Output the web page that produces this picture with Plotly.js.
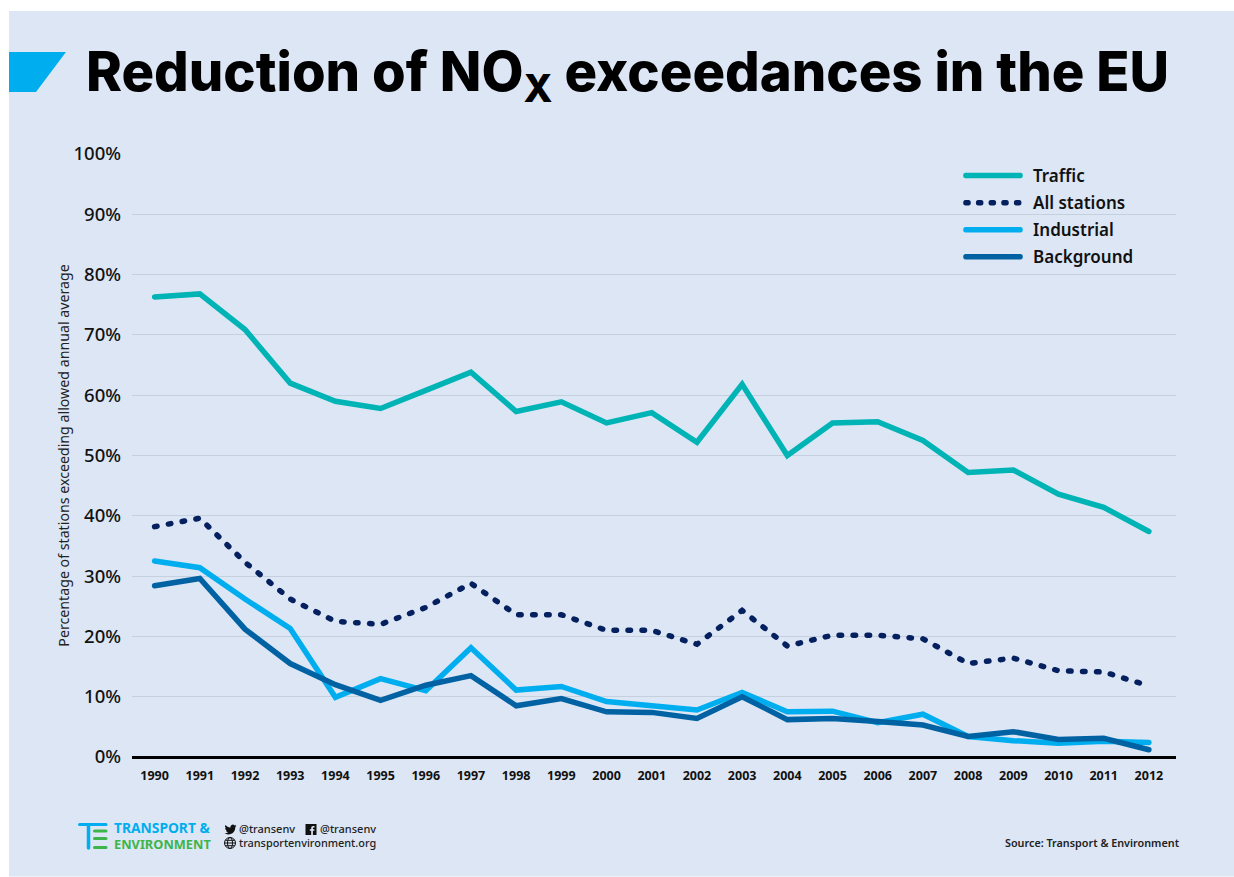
<!DOCTYPE html>
<html>
<head>
<meta charset="utf-8">
<script src="https://cdn.plot.ly/plotly-3.0.1.min.js"></script>
<style>
html,body{margin:0;padding:0;background:#fff;overflow:hidden}
#wrap{position:relative;width:1234px;height:877px}
#chart{position:absolute;left:0;top:0;width:1234px;height:877px}
#icons{position:absolute;left:0;top:0;pointer-events:none}
.scatterlayer .js-line{stroke-linecap:round}
.legend .legendlines path{stroke-linecap:round;transform:translateX(4.33px) scaleX(.8333)}
.legend .groups:nth-child(2) .legendlines path{stroke-dasharray:3.6px 11.6px !important}
</style>
</head>
<body>
<div id="wrap">
<div id="chart"></div>
<svg id="icons" width="1234" height="877" viewBox="0 0 1234 877">
  <g stroke-linecap="round" fill="none">
    <path d="M79.500 824.500H106" stroke="#00aeef" stroke-width="3"/>
    <path d="M88.500 826V848" stroke="#00aeef" stroke-width="3.500"/>
    <path d="M94.500 831H106M94.500 838.500H106M94.500 847.500H106" stroke="#3db54a" stroke-width="3"/>
  </g>
  <path transform="translate(224.500 823.500) scale(0.5)" fill="#111" d="M23.950 4.570a10 10 0 0 1-2.830.78 4.930 4.930 0 0 0 2.160-2.720 9.860 9.860 0 0 1-3.120 1.190 4.920 4.920 0 0 0-8.390 4.480A13.980 13.980 0 0 1 1.640 3.160a4.920 4.920 0 0 0 1.520 6.570 4.900 4.900 0 0 1-2.230-.62v.06a4.920 4.920 0 0 0 3.950 4.830 5 5 0 0 1-2.210.08 4.940 4.940 0 0 0 4.600 3.420A9.870 9.870 0 0 1 0 19.540a14 14 0 0 0 7.560 2.210c9.050 0 14-7.500 14-13.980 0-.21 0-.42-.02-.63a9.940 9.940 0 0 0 2.410-2.570z"/>
  <g transform="translate(305.500 824)">
    <rect width="11" height="11" fill="#111"/>
    <path d="M7.400 11V6.800H8.800L9 5.200H7.400V4.200C7.400 3.700 7.600 3.400 8.200 3.400H9V2C8.800 2 8.300 1.900 7.700 1.900 6.500 1.900 5.700 2.700 5.700 4V5.200H4.300V6.800H5.700V11Z" fill="#dce6f5"/>
  </g>
  <g transform="translate(230 843)" fill="none" stroke="#111" stroke-width="1">
    <circle r="5.500"/><ellipse rx="2.500" ry="5.500"/>
    <path d="M-5.500 0H5.500M-4.700 -2.700H4.700M-4.700 2.700H4.700"/>
  </g>
</svg>
</div>
<script>
const years = ['1990','1991','1992','1993','1994','1995','1996','1997','1998','1999','2000','2001','2002','2003','2004','2005','2006','2007','2008','2009','2010','2011','2012'];
const traffic = [76.3,76.8,70.9,62,59,57.8,60.8,63.8,57.3,58.9,55.4,57.1,52.2,61.8,50,55.4,55.6,52.5,47.2,47.6,43.6,41.4,37.4];
const allStations = [38.2,39.6,32.3,26.2,22.5,22,24.8,28.8,23.6,23.6,21,21,18.7,24.3,18.4,20.2,20.2,19.6,15.5,16.4,14.3,14.1,11.8];
const industrial = [32.5,31.4,26.2,21.3,9.9,13,11,18.1,11.1,11.7,9.2,8.6,7.8,10.7,7.5,7.6,5.7,7.1,3.4,2.7,2.3,2.6,2.4];
const background = [28.4,29.6,21.2,15.5,12,9.4,11.9,13.5,8.5,9.7,7.5,7.4,6.4,10,6.2,6.4,5.9,5.3,3.4,4.2,2.9,3.1,1.2];
const yTicks = [0,10,20,30,40,50,60,70,80,90,100];

const W = 1234, H = 877;
const L = 132, R = 1176, T = 154, B = 757.500;
const px = x => (x - L) / (R - L);
const py = y => (B - y) / (B - T);
const F = 'Noto Sans, sans-serif';

function trace(name, y, color, dash) {
  return {x: years, y, name, legendgroup: name, type: 'scatter', mode: 'lines',
    line: {color, width: 5.500, dash: dash || 'solid', shape: 'linear'}, hoverinfo: 'x+y+name'};
}
const data = [
  trace('Traffic', traffic, '#00b3b5'),
  trace('All stations', allStations, '#04205f', '2.500px,11.500px'),
  trace('Industrial', industrial, '#00aeef'),
  trace('Background', background, '#0062a3')
];
function note(text, x, y, size, color, anchor, weight) {
  return {text, xref: 'paper', yref: 'paper', x: px(x), y: py(y), xanchor: anchor || 'left', yanchor: 'middle',
    showarrow: false, font: {family: F, size, color, weight: weight || 400}};
}
const layout = {
  width: W, height: H, autosize: false,
  margin: {l: L, r: W - R, t: T, b: H - B, pad: 0},
  paper_bgcolor: '#ffffff', plot_bgcolor: 'rgba(0,0,0,0)',
  showlegend: true,
  legend: {x: px(957), y: py(158), xanchor: 'left', yanchor: 'top', bgcolor: 'rgba(0,0,0,0)',
    font: {family: F, size: 17, color: '#111', weight: 600}, itemwidth: 66, tracegroupgap: 2, traceorder: 'grouped'},
  title: {text: 'Reduction of NO<sub>X</sub> exceedances in the EU', xref: 'container', yref: 'container',
    x: 86 / W, y: 1 - 72 / H, xanchor: 'left', yanchor: 'middle',
    font: {family: 'Inter, sans-serif', size: 54.400, color: '#000', weight: 800}},
  xaxis: {type: 'category', categoryorder: 'array', categoryarray: years, range: [-0.5, 22.6], showgrid: false,
    showline: false, ticks: '', zeroline: false, tickfont: {family: F, size: 12.500, color: '#111', weight: 700}, ticklabelstandoff: 9},
  yaxis: {range: [0, 100], tickvals: yTicks, ticktext: yTicks.map(v => v + '%'), showgrid: true, gridcolor: '#c4d0de', gridwidth: 1.200,
    zeroline: true, zerolinecolor: '#000', zerolinewidth: 3, showline: false, ticks: '',
    tickfont: {family: F, size: 18.500, color: '#111', weight: 500}, ticklabelstandoff: 10,
    title: {text: 'Percentage of stations exceeding allowed annual average', standoff: 0, font: {family: F, size: 14.200, color: '#222'}}},
  shapes: [
    {type: 'rect', layer: 'below', xref: 'paper', yref: 'paper', x0: px(9), x1: px(W), y0: py(11), y1: py(H), fillcolor: '#dce6f5', line: {width: 0}},
    {type: 'path', layer: 'below', xref: 'paper', yref: 'paper',
      path: `M${px(9)} ${py(52)}L${px(66)} ${py(52)}L${px(36)} ${py(92)}L${px(9)} ${py(92)}Z`, fillcolor: '#00aeef', line: {width: 0}}
  ],
  annotations: [
    Object.assign(note('<span style="color:#00aeef;font-size:13.8px">TRANSPORT &amp;</span><br><span style="color:#3db54a;font-size:12.8px">ENVIRONMENT</span>', 112, 836.500, 12, '#3db54a', 'left', 700), {align: 'left'}),
    note('@transenv', 237, 829, 11, '#222', 'left', 500),
    note('@transenv', 318, 829, 11, '#222', 'left', 500),
    note('transportenvironment.org', 237, 843.500, 10.900, '#222', 'left', 500),
    note('Source: Transport &amp; Environment', 1182, 843, 10.800, '#222', 'right', 600)
  ]
};
Plotly.newPlot('chart', data, layout, {displayModeBar: false});
</script>
</body>
</html>
